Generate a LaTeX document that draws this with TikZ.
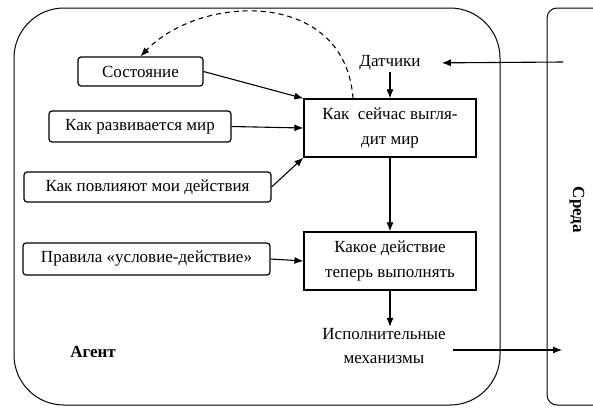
\documentclass[tikz,border=0pt]{standalone}
\usepackage{fontspec}
\setmainfont{LiberationSerif}[Extension=.ttf, UprightFont=*-Regular, BoldFont=*-Bold, ItalicFont=*-Italic, BoldItalicFont=*-BoldItalic]
\usetikzlibrary{arrows.meta}

\tikzset{
    leftbox/.style = {draw, black, line width=1.2pt, rounded corners=3pt, inner sep=0pt},
    mainbox/.style = {draw, black, line width=1.2pt, inner sep=0pt, align=center},
    plain/.style   = {inner sep=1pt, align=center},
    conn/.style    = {black, line width=1.1pt, -{Latex[length=9pt,width=7pt]}}
}

\begin{document}
\begin{tikzpicture}[x=1pt, y=-1pt, font=\rmfamily\fontsize{17}{24.5}\selectfont]
            \useasboundingbox (0,0) rectangle (593,408);
            \clip (0,0) rectangle (593,408);
            \draw[black, line width=1pt, rounded corners=50pt] (14,8) rectangle (500,405);
            \draw[black, line width=1pt, rounded corners=10pt] (547,8) rectangle (640,405);

            \node[leftbox, minimum width=125pt, minimum height=29pt] (sost) at (140.5,71.5) {Состояние};
            \node[leftbox, minimum width=182pt, minimum height=31pt] (razv) at (140,126.5) {Как развивается мир};
            \node[leftbox, minimum width=247pt, minimum height=30pt] (povl) at (147.5,187) {Как повлияют мои действия};
            \node[leftbox, minimum width=247pt, minimum height=32pt] (prav) at (146.5,259) {Правила «условие-действие»};

            \node[mainbox, minimum width=172pt, minimum height=58pt] (mir) at (390,128) {Как\ \ сейчас выгля-\\дит мир};
            \node[mainbox, minimum width=172pt, minimum height=58pt] (deist) at (390,261) {Какое действие\\теперь выполнять};

            \node[plain] (datch) at (390,63) {Датчики};
            \node[plain] (ispoln) at (384,346) {Исполнительные\\механизмы};
            \node[plain] (agent) at (93,352) {\bfseries Агент};
            \node[plain, rotate=-90] (sreda) at (577,210) {\bfseries Среда};

            \coordinate (envin) at (563,62);
            \coordinate (envout) at (562,350);

            \draw[conn] (sost.east) -- (mir.north west);
            \draw[conn] (razv.east) -- (mir.west);
            \draw[conn] (povl.east) -- (mir.south west);
            \draw[conn] (prav.east) -- (deist.west);
            \draw[conn] (datch.south) -- (mir.north);
            \draw[conn] (mir.south) -- (deist.north);
            \draw[conn] (deist.south) -- (deist.south |- ispoln.north);
            \draw[conn, shorten >=20pt] (envin) -- (datch.east);
            \draw[conn] ([xshift=6pt]ispoln.east |- envout) -- (envout);
            \draw[conn, dash pattern=on 5pt off 4pt] ([xshift=-37pt]mir.north) .. controls (345,-12) and (200,-6) .. (sost.north);
\end{tikzpicture}
\end{document}
